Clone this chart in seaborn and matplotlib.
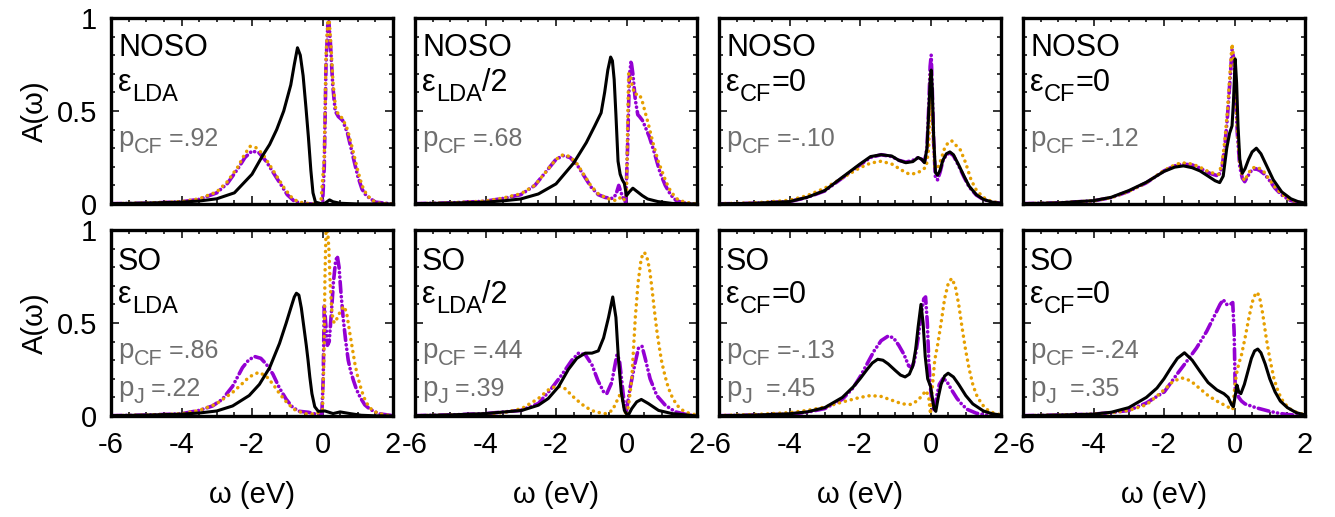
import matplotlib
matplotlib.use("Agg")
import matplotlib.pyplot as plt
from matplotlib.ticker import MultipleLocator, FixedLocator, FixedFormatter
import seaborn as sns
import pandas as pd

# ---------------- data (omega in eV, A(omega)) ----------------
# Panel 1: NOSO, eps_LDA
w1k = [-6, -5, -4, -3.5, -3, -2.5, -2, -1.7, -1.5, -1.3, -1.1, -0.9, -0.8, -0.71, -0.63, -0.55, -0.47, -0.4, -0.33, -0.27, -0.2, 0, 0.1, 0.2, 0.3, 0.5, 1, 2]
a1k = [0.002, 0.005, 0.01, 0.016, 0.028, 0.06, 0.16, 0.26, 0.32, 0.4, 0.5, 0.64, 0.75, 0.84, 0.8, 0.69, 0.52, 0.36, 0.18, 0.06, 0.01, 0.0, 0.008, 0.022, 0.012, 0.004, 0.0, 0.0]
w1p = [-6, -5, -4, -3.5, -3, -2.7, -2.4, -2.2, -2.0, -1.8, -1.6, -1.4, -1.2, -1.0, -0.8, -0.6, -0.3, -0.05, 0.0, 0.05, 0.1, 0.15, 0.18, 0.22, 0.29, 0.36, 0.45, 0.57, 0.71, 0.86, 1.0, 1.12, 1.24, 1.5, 2]
a1p = [0.002, 0.004, 0.012, 0.025, 0.06, 0.11, 0.19, 0.25, 0.285, 0.275, 0.23, 0.17, 0.11, 0.05, 0.015, 0.004, 0.0, 0.0, 0.0, 0.2, 0.75, 0.96, 0.98, 0.88, 0.64, 0.5, 0.47, 0.45, 0.38, 0.26, 0.15, 0.08, 0.045, 0.01, 0.0]
w1o = [-6, -5, -4, -3.5, -3, -2.7, -2.4, -2.2, -2.05, -1.9, -1.7, -1.5, -1.3, -1.1, -0.9, -0.7, -0.4, -0.05, 0.05, 0.1, 0.15, 0.19, 0.23, 0.3, 0.37, 0.45, 0.57, 0.71, 0.86, 1.0, 1.12, 1.24, 1.4, 1.6, 2]
a1o = [0.002, 0.005, 0.013, 0.028, 0.065, 0.12, 0.2, 0.27, 0.31, 0.305, 0.27, 0.21, 0.15, 0.09, 0.04, 0.012, 0.002, 0.0, 0.25, 0.8, 0.98, 0.99, 0.88, 0.65, 0.52, 0.48, 0.46, 0.4, 0.29, 0.18, 0.1, 0.055, 0.02, 0.005, 0.0]

# Panel 2: NOSO, eps_LDA/2
w2k = [-6, -5, -4, -3.5, -3, -2.5, -2, -1.5, -1.14, -0.9, -0.72, -0.62, -0.53, -0.45, -0.4, -0.35, -0.3, -0.24, -0.18, -0.12, -0.06, 0.0, 0.08, 0.18, 0.28, 0.45, 0.6, 0.89, 1.3, 2]
a2k = [0.002, 0.005, 0.01, 0.017, 0.027, 0.054, 0.108, 0.22, 0.33, 0.42, 0.49, 0.6, 0.72, 0.79, 0.77, 0.67, 0.48, 0.23, 0.16, 0.13, 0.11, 0.045, 0.065, 0.085, 0.07, 0.045, 0.027, 0.013, 0.003, 0.0]
w2p = [-6, -5, -4, -3.5, -3, -2.6, -2.3, -2.0, -1.8, -1.6, -1.4, -1.2, -1.0, -0.8, -0.6, -0.4, -0.3, -0.22, -0.15, -0.08, -0.02, 0.03, 0.08, 0.13, 0.18, 0.25, 0.32, 0.37, 0.45, 0.52, 0.65, 0.8, 0.95, 1.1, 1.25, 1.4, 1.6, 2]
a2p = [0.002, 0.006, 0.015, 0.03, 0.05, 0.1, 0.17, 0.24, 0.26, 0.25, 0.21, 0.15, 0.09, 0.05, 0.035, 0.03, 0.05, 0.1, 0.06, 0.02, 0.01, 0.3, 0.68, 0.77, 0.7, 0.56, 0.48, 0.47, 0.45, 0.42, 0.36, 0.27, 0.17, 0.1, 0.05, 0.02, 0.006, 0.0]
w2o = [-6, -5, -4, -3.5, -3, -2.6, -2.3, -2.0, -1.8, -1.6, -1.4, -1.2, -1.0, -0.8, -0.6, -0.4, -0.25, -0.15, -0.05, 0.0, 0.03, 0.06, 0.1, 0.16, 0.23, 0.3, 0.37, 0.45, 0.52, 0.62, 0.75, 0.9, 1.0, 1.12, 1.26, 1.45, 1.65, 2]
a2o = [0.002, 0.006, 0.016, 0.032, 0.055, 0.1, 0.17, 0.24, 0.265, 0.255, 0.215, 0.155, 0.095, 0.055, 0.035, 0.02, 0.02, 0.04, 0.02, 0.05, 0.4, 0.7, 0.7, 0.64, 0.59, 0.59, 0.59, 0.55, 0.5, 0.43, 0.33, 0.23, 0.18, 0.12, 0.065, 0.025, 0.01, 0.0]

# Panel 3: NOSO, eps_CF=0 (p_CF=-.10)
w3k = [-6, -5, -4, -3.5, -3, -2.5, -2, -1.7, -1.4, -1.1, -0.9, -0.7, -0.5, -0.35, -0.25, -0.17, -0.1, -0.05, -0.01, 0.02, 0.05, 0.09, 0.14, 0.2, 0.27, 0.35, 0.45, 0.55, 0.65, 0.8, 0.95, 1.1, 1.3, 1.5, 1.75, 2]
a3k = [0.001, 0.004, 0.013, 0.036, 0.072, 0.144, 0.215, 0.255, 0.265, 0.258, 0.235, 0.222, 0.228, 0.25, 0.24, 0.222, 0.3, 0.5, 0.66, 0.72, 0.62, 0.36, 0.17, 0.155, 0.18, 0.235, 0.27, 0.28, 0.265, 0.21, 0.15, 0.095, 0.05, 0.025, 0.01, 0.004]
w3p = [-6, -5, -4, -3.5, -3, -2.5, -2, -1.7, -1.4, -1.1, -0.9, -0.7, -0.5, -0.35, -0.25, -0.17, -0.1, -0.05, -0.01, 0.02, 0.05, 0.09, 0.14, 0.2, 0.27, 0.35, 0.45, 0.55, 0.65, 0.8, 0.95, 1.1, 1.3, 1.5, 1.75, 2]
a3p = [0.001, 0.004, 0.013, 0.035, 0.07, 0.14, 0.21, 0.25, 0.265, 0.255, 0.235, 0.225, 0.235, 0.25, 0.24, 0.225, 0.3, 0.52, 0.74, 0.8, 0.62, 0.33, 0.14, 0.13, 0.17, 0.23, 0.265, 0.275, 0.26, 0.205, 0.145, 0.09, 0.048, 0.024, 0.01, 0.004]
w3o = [-6, -5, -4, -3.5, -3, -2.5, -2, -1.7, -1.4, -1.1, -0.8, -0.6, -0.4, -0.25, -0.12, -0.05, 0.0, 0.05, 0.12, 0.2, 0.3, 0.4, 0.5, 0.6, 0.7, 0.85, 1.0, 1.15, 1.3, 1.5, 1.75, 2]
a3o = [0.002, 0.006, 0.02, 0.045, 0.085, 0.14, 0.195, 0.22, 0.23, 0.215, 0.18, 0.16, 0.165, 0.18, 0.2, 0.3, 0.7, 0.45, 0.2, 0.19, 0.24, 0.3, 0.33, 0.34, 0.32, 0.29, 0.22, 0.13, 0.075, 0.035, 0.012, 0.006]

# Panel 4: NOSO, eps_CF=0 (p_CF=-.12)
w4k = [-6, -5, -4, -3.5, -3, -2.5, -2, -1.7, -1.45, -1.2, -0.98, -0.75, -0.55, -0.42, -0.32, -0.22, -0.14, -0.07, -0.03, 0.02, 0.06, 0.1, 0.15, 0.22, 0.3, 0.4, 0.5, 0.62, 0.75, 0.9, 1.1, 1.34, 1.6, 1.8, 2]
a4k = [0.002, 0.006, 0.018, 0.036, 0.072, 0.117, 0.175, 0.198, 0.205, 0.195, 0.178, 0.15, 0.125, 0.115, 0.15, 0.3, 0.38, 0.42, 0.55, 0.78, 0.65, 0.42, 0.24, 0.165, 0.19, 0.24, 0.28, 0.3, 0.27, 0.21, 0.13, 0.065, 0.028, 0.013, 0.005]
w4p = [-6, -5, -4, -3.5, -3, -2.5, -2, -1.7, -1.5, -1.2, -1.0, -0.7, -0.45, -0.35, -0.27, -0.2, -0.13, -0.07, -0.02, 0.03, 0.08, 0.15, 0.22, 0.29, 0.38, 0.48, 0.6, 0.72, 0.85, 0.96, 1.15, 1.33, 1.55, 1.8, 2]
a4p = [0.002, 0.006, 0.017, 0.034, 0.068, 0.114, 0.178, 0.205, 0.215, 0.21, 0.195, 0.165, 0.15, 0.2, 0.32, 0.47, 0.66, 0.83, 0.78, 0.6, 0.38, 0.2, 0.14, 0.12, 0.15, 0.18, 0.19, 0.18, 0.16, 0.135, 0.085, 0.05, 0.022, 0.009, 0.003]
w4o = [-6, -5, -4, -3.5, -3, -2.5, -2, -1.7, -1.5, -1.2, -1.0, -0.7, -0.45, -0.35, -0.27, -0.2, -0.13, -0.07, -0.02, 0.03, 0.08, 0.15, 0.22, 0.29, 0.38, 0.48, 0.6, 0.72, 0.85, 0.96, 1.15, 1.33, 1.55, 1.8, 2]
a4o = [0.002, 0.006, 0.017, 0.034, 0.068, 0.115, 0.18, 0.21, 0.222, 0.215, 0.2, 0.17, 0.16, 0.22, 0.35, 0.5, 0.7, 0.86, 0.78, 0.6, 0.4, 0.22, 0.15, 0.125, 0.16, 0.19, 0.2, 0.19, 0.17, 0.14, 0.09, 0.055, 0.025, 0.01, 0.004]

# Panel 5: SO, eps_LDA
w5k = [-6, -5, -4, -3.5, -3, -2.55, -2.08, -1.79, -1.5, -1.22, -1.03, -0.9, -0.8, -0.74, -0.67, -0.6, -0.53, -0.46, -0.41, -0.36, -0.3, -0.22, -0.12, 0.07, 0.3, 0.5, 0.78, 1.1, 1.5, 2]
a5k = [0.002, 0.005, 0.01, 0.016, 0.027, 0.054, 0.11, 0.17, 0.26, 0.39, 0.5, 0.58, 0.64, 0.66, 0.65, 0.58, 0.48, 0.38, 0.3, 0.21, 0.12, 0.05, 0.025, 0.027, 0.013, 0.022, 0.013, 0.004, 0.001, 0.0]
w5p = [-6, -5, -4, -3.5, -3.12, -2.84, -2.55, -2.27, -2.1, -1.93, -1.75, -1.6, -1.41, -1.22, -1.03, -0.84, -0.65, -0.4, -0.15, -0.02, 0.02, 0.05, 0.09, 0.14, 0.19, 0.25, 0.31, 0.37, 0.42, 0.47, 0.52, 0.59, 0.66, 0.73, 0.8, 0.88, 0.97, 1.07, 1.2, 1.35, 1.6, 2]
a5p = [0.002, 0.005, 0.012, 0.03, 0.054, 0.09, 0.16, 0.26, 0.3, 0.32, 0.31, 0.28, 0.226, 0.15, 0.09, 0.045, 0.025, 0.02, 0.008, 0.005, 0.2, 0.6, 0.5, 0.38, 0.4, 0.55, 0.72, 0.83, 0.86, 0.8, 0.67, 0.52, 0.4, 0.3, 0.24, 0.19, 0.14, 0.1, 0.06, 0.036, 0.012, 0.002]
w5o = [-6, -5, -4, -3.5, -3.03, -2.55, -2.3, -2.08, -1.81, -1.6, -1.4, -1.2, -1.0, -0.8, -0.5, -0.2, 0.0, 0.04, 0.07, 0.1, 0.14, 0.18, 0.22, 0.27, 0.33, 0.4, 0.5, 0.6, 0.68, 0.78, 0.85, 0.92, 1.0, 1.11, 1.2, 1.3, 1.42, 1.54, 1.75, 2]
a5o = [0.002, 0.005, 0.012, 0.03, 0.063, 0.127, 0.17, 0.21, 0.235, 0.215, 0.17, 0.115, 0.07, 0.035, 0.012, 0.01, 0.03, 0.3, 0.75, 1.0, 1.02, 0.9, 0.7, 0.55, 0.5, 0.52, 0.56, 0.59, 0.56, 0.44, 0.36, 0.28, 0.21, 0.136, 0.09, 0.054, 0.03, 0.018, 0.006, 0.002]

# Panel 6: SO, eps_LDA/2
w6k = [-6, -5, -4, -2.97, -2.5, -2.22, -1.93, -1.65, -1.41, -1.17, -0.98, -0.8, -0.65, -0.51, -0.39, -0.3, -0.23, -0.15, -0.06, 0.04, 0.15, 0.29, 0.42, 0.62, 0.91, 1.29, 2]
a6k = [0.002, 0.006, 0.013, 0.03, 0.058, 0.094, 0.157, 0.25, 0.31, 0.338, 0.338, 0.35, 0.42, 0.53, 0.64, 0.53, 0.31, 0.13, 0.03, 0.0, 0.04, 0.076, 0.089, 0.067, 0.03, 0.013, 0.0]
w6p = [-6, -5, -4, -3, -2.5, -2.12, -1.84, -1.55, -1.36, -1.17, -0.98, -0.81, -0.65, -0.56, -0.42, -0.27, -0.2, -0.13, -0.06, 0.0, 0.1, 0.25, 0.34, 0.44, 0.53, 0.67, 0.86, 1.1, 1.39, 1.77, 2]
a6p = [0.002, 0.006, 0.013, 0.03, 0.067, 0.15, 0.22, 0.3, 0.338, 0.33, 0.275, 0.19, 0.13, 0.12, 0.18, 0.33, 0.3, 0.18, 0.06, 0.03, 0.15, 0.29, 0.365, 0.375, 0.31, 0.2, 0.11, 0.058, 0.022, 0.005, 0.002]
w6o = [-6, -5, -4, -3.44, -2.97, -2.5, -2.22, -1.98, -1.75, -1.46, -1.17, -0.89, -0.6, -0.4, -0.3, -0.2, -0.12, -0.05, 0.0, 0.06, 0.15, 0.25, 0.33, 0.42, 0.51, 0.6, 0.66, 0.72, 0.79, 0.86, 0.93, 1.0, 1.1, 1.19, 1.3, 1.43, 1.6, 1.77, 2]
a6o = [0.002, 0.005, 0.01, 0.02, 0.04, 0.094, 0.14, 0.163, 0.148, 0.094, 0.049, 0.022, 0.013, 0.03, 0.07, 0.11, 0.09, 0.03, 0.0, 0.06, 0.2, 0.53, 0.72, 0.85, 0.88, 0.84, 0.78, 0.69, 0.57, 0.46, 0.37, 0.29, 0.21, 0.15, 0.1, 0.058, 0.03, 0.015, 0.005]

# Panel 7: SO, eps_CF=0 (p_CF=-.13)
w7k = [-6, -5, -4, -3.5, -3, -2.5, -2.2, -2, -1.8, -1.65, -1.5, -1.35, -1.2, -1.0, -0.85, -0.72, -0.6, -0.5, -0.42, -0.35, -0.27, -0.21, -0.15, -0.08, 0.0, 0.05, 0.1, 0.15, 0.22, 0.3, 0.4, 0.5, 0.65, 0.8, 1.0, 1.2, 1.5, 1.75, 2]
a7k = [0.002, 0.005, 0.012, 0.022, 0.045, 0.1, 0.155, 0.2, 0.25, 0.285, 0.305, 0.3, 0.28, 0.245, 0.22, 0.21, 0.225, 0.27, 0.36, 0.48, 0.6, 0.5, 0.32, 0.2, 0.16, 0.1, 0.04, 0.025, 0.1, 0.17, 0.215, 0.23, 0.21, 0.17, 0.11, 0.065, 0.027, 0.012, 0.005]
w7p = [-6, -5, -4, -3.5, -3, -2.5, -2.2, -2, -1.8, -1.6, -1.4, -1.2, -1.05, -0.9, -0.75, -0.62, -0.53, -0.45, -0.35, -0.26, -0.19, -0.14, -0.09, -0.05, 0.0, 0.05, 0.1, 0.17, 0.25, 0.35, 0.45, 0.6, 0.75, 0.9, 1.05, 1.3, 1.6, 2]
a7p = [0.002, 0.005, 0.01, 0.02, 0.04, 0.09, 0.15, 0.21, 0.28, 0.35, 0.405, 0.43, 0.42, 0.38, 0.33, 0.27, 0.26, 0.3, 0.42, 0.55, 0.63, 0.64, 0.5, 0.3, 0.15, 0.06, 0.025, 0.1, 0.17, 0.2, 0.19, 0.14, 0.095, 0.06, 0.035, 0.015, 0.005, 0.0]
w7o = [-6, -5, -4, -3.5, -3, -2.5, -2.0, -1.7, -1.4, -1.1, -0.8, -0.55, -0.35, -0.2, -0.12, -0.05, 0.0, 0.05, 0.12, 0.2, 0.3, 0.4, 0.5, 0.6, 0.7, 0.8, 0.9, 1.0, 1.1, 1.2, 1.3, 1.45, 1.6, 1.8, 2]
a7o = [0.003, 0.008, 0.018, 0.03, 0.048, 0.075, 0.1, 0.11, 0.105, 0.085, 0.065, 0.062, 0.085, 0.12, 0.136, 0.1, 0.01, 0.15, 0.3, 0.38, 0.5, 0.63, 0.71, 0.74, 0.7, 0.6, 0.47, 0.35, 0.25, 0.17, 0.115, 0.065, 0.035, 0.015, 0.007]

# Panel 8: SO, eps_CF=0 (p_CF=-.24)
w8k = [-6, -5, -4, -3.5, -3, -2.5, -2.2, -2, -1.8, -1.62, -1.42, -1.2, -0.98, -0.75, -0.5, -0.3, -0.18, -0.08, -0.03, 0.03, 0.07, 0.12, 0.18, 0.28, 0.38, 0.48, 0.57, 0.66, 0.75, 0.87, 1.0, 1.15, 1.3, 1.5, 1.75, 2]
a8k = [0.002, 0.005, 0.01, 0.02, 0.045, 0.1, 0.15, 0.2, 0.26, 0.31, 0.34, 0.3, 0.24, 0.18, 0.14, 0.12, 0.1, 0.06, 0.05, 0.12, 0.166, 0.13, 0.12, 0.17, 0.24, 0.31, 0.35, 0.36, 0.34, 0.28, 0.2, 0.13, 0.08, 0.045, 0.018, 0.006]
w8p = [-6, -5, -4, -3.5, -3, -2.5, -1.99, -1.65, -1.37, -1.08, -0.79, -0.55, -0.41, -0.32, -0.22, -0.12, -0.05, -0.01, 0.02, 0.06, 0.12, 0.2, 0.3, 0.45, 0.6, 0.8, 1.0, 1.25, 1.5, 2]
a8p = [0.002, 0.005, 0.01, 0.018, 0.03, 0.07, 0.13, 0.22, 0.29, 0.365, 0.455, 0.546, 0.6, 0.625, 0.6, 0.6, 0.61, 0.45, 0.15, 0.14, 0.1, 0.08, 0.065, 0.055, 0.045, 0.035, 0.025, 0.015, 0.008, 0.001]
w8o = [-6, -5, -4, -3.5, -3, -2.5, -2, -1.75, -1.5, -1.25, -1.0, -0.75, -0.5, -0.3, -0.15, -0.05, 0.0, 0.05, 0.12, 0.2, 0.3, 0.4, 0.5, 0.58, 0.65, 0.72, 0.8, 0.9, 1.0, 1.12, 1.25, 1.4, 1.6, 1.8, 2]
a8o = [0.002, 0.005, 0.01, 0.018, 0.03, 0.06, 0.14, 0.185, 0.205, 0.19, 0.15, 0.11, 0.08, 0.06, 0.045, 0.035, 0.14, 0.22, 0.28, 0.33, 0.42, 0.52, 0.61, 0.65, 0.665, 0.63, 0.55, 0.42, 0.31, 0.2, 0.125, 0.07, 0.035, 0.016, 0.007]

row_labels = ["NOSO", "SO"]
eps_sub = ["LDA", "LDA", "CF", "CF"]
eps_tail = ["", "/2", "=0", "=0"]
pcf_top = [" =.92", " =.68", " =-.10", " =-.12"]
pcf_bot = [" =.86", " =.44", " =-.13", " =-.24"]
pj_bot = [" =.22", " =.39", "  =.45", "  =.35"]
xticks = [-6, -4, -2, 0, 2]
xticklabels = ["-6", "-4", "-2", "0", "2"]
yticks = [0, 0.5, 1]
yticklabels = ["0", "0.5", "1"]

panels = [
    ((w1k, a1k), (w1p, a1p), (w1o, a1o)),
    ((w2k, a2k), (w2p, a2p), (w2o, a2o)),
    ((w3k, a3k), (w3p, a3p), (w3o, a3o)),
    ((w4k, a4k), (w4p, a4p), (w4o, a4o)),
    ((w5k, a5k), (w5p, a5p), (w5o, a5o)),
    ((w6k, a6k), (w6p, a6p), (w6o, a6o)),
    ((w7k, a7k), (w7p, a7p), (w7o, a7o)),
    ((w8k, a8k), (w8p, a8p), (w8o, a8o)),
]

# ---------------- style ----------------
sns.set_theme(style="white")
plt.rcParams["font.family"] = ["Liberation Sans", "DejaVu Sans"]
plt.rcParams["axes.unicode_minus"] = False
plt.rcParams["text.color"] = "black"
plt.rcParams["xtick.color"] = "black"
plt.rcParams["ytick.color"] = "black"
plt.rcParams["axes.labelcolor"] = "black"

BLACK = "#000000"
PURPLE = "#9400D3"
ORANGE = "#E69F00"
GRAY = "#6f6f6f"

W, H = 1335, 517
fig = plt.figure(figsize=(W / 100, H / 100), dpi=100)
fig.patch.set_facecolor("white")

col_left = [111, 415, 719, 1023]
ax_w = 282
row_top = [18, 230]
ax_h = 186

axes = []
for r in range(2):
    for c in range(4):
        l = col_left[c] / W
        b = 1 - (row_top[r] + ax_h) / H
        ax = fig.add_axes([l, b, ax_w / W, ax_h / H])
        axes.append(ax)

renderer = fig.canvas.get_renderer()


def rich(ax, x, y, parts):
    X, Y = ax.transAxes.transform((x, y))
    for s, size, dy, color in parts:
        t = fig.text(X / W, (Y + dy) / H, s, fontsize=size, color=color,
                     ha="left", va="baseline")
        bb = t.get_window_extent(renderer)
        X = bb.x1


for i, ax in enumerate(axes):
    r, c = divmod(i, 4)
    (wk, ak), (wp, ap), (wo, ao) = panels[i]
    sns.lineplot(x=wp, y=ap, ax=ax, color=PURPLE, lw=2.6, sort=False, estimator=None,
                 linestyle=(0, (3.0, 1.2, 0.05, 1.2, 0.05, 1.2)), dash_capstyle="round")
    sns.lineplot(x=wo, y=ao, ax=ax, color=ORANGE, lw=2.5, sort=False, estimator=None,
                 linestyle=(0, (0.05, 1.7)), dash_capstyle="round")
    sns.lineplot(x=wk, y=ak, ax=ax, color=BLACK, lw=2.2, sort=False, estimator=None)

    ax.set_xlim(-6, 2)
    ax.set_ylim(0, 1)
    ax.set_xlabel("")
    ax.set_ylabel("")
    ax.set_facecolor("white")
    for sp in ax.spines.values():
        sp.set_visible(True)
        sp.set_color("black")
        sp.set_linewidth(2.4)
    ax.xaxis.set_major_locator(FixedLocator(xticks))
    ax.xaxis.set_minor_locator(MultipleLocator(0.5))
    ax.yaxis.set_major_locator(FixedLocator(yticks))
    ax.yaxis.set_minor_locator(MultipleLocator(0.1))
    ax.tick_params(which="both", direction="in", top=True, right=True, bottom=True, left=True,
                   color="black", width=1.1)
    ax.tick_params(which="major", length=5.5)
    ax.tick_params(which="minor", length=3)
    ax.tick_params(axis="x", which="major", pad=11, labelsize=21)
    ax.tick_params(axis="y", which="major", pad=10, labelsize=21)
    if r == 1:
        ax.xaxis.set_major_formatter(FixedFormatter(xticklabels))
    else:
        ax.set_xticklabels([])
    if c == 0:
        ax.yaxis.set_major_formatter(FixedFormatter(yticklabels))
    else:
        ax.set_yticklabels([])

    # annotations
    rich(ax, 0.025, 0.795 if r == 0 else 0.784, [(row_labels[r], 22, 0, BLACK)])
    rich(ax, 0.025, 0.61, [("\u03b5", 22, 0, BLACK), (eps_sub[c], 17, -10, BLACK),
                           (eps_tail[c], 22, 0, BLACK)])
    pcf = pcf_top[c] if r == 0 else pcf_bot[c]
    rich(ax, 0.025, 0.31, [("p", 20, 0, GRAY), ("CF", 15.5, -7, GRAY), (pcf, 18, 0, GRAY)])
    if r == 1:
        rich(ax, 0.025, 0.11, [("p", 20, 0, GRAY), ("J", 15.5, -7, GRAY), (pj_bot[c], 18, 0, GRAY)])

# axis labels
for r in range(2):
    yc = 1 - (row_top[r] + ax_h / 2) / H
    fig.text(35 / W, yc, "A(\u03c9)", rotation=90, ha="center", va="center", fontsize=21)
for c in range(4):
    xc = (col_left[c] + ax_w / 2) / W
    fig.text(xc, 1 - 495 / H, "\u03c9 (eV)", ha="center", va="center", fontsize=21)

fig.savefig("out.png", dpi=100, facecolor="white")
